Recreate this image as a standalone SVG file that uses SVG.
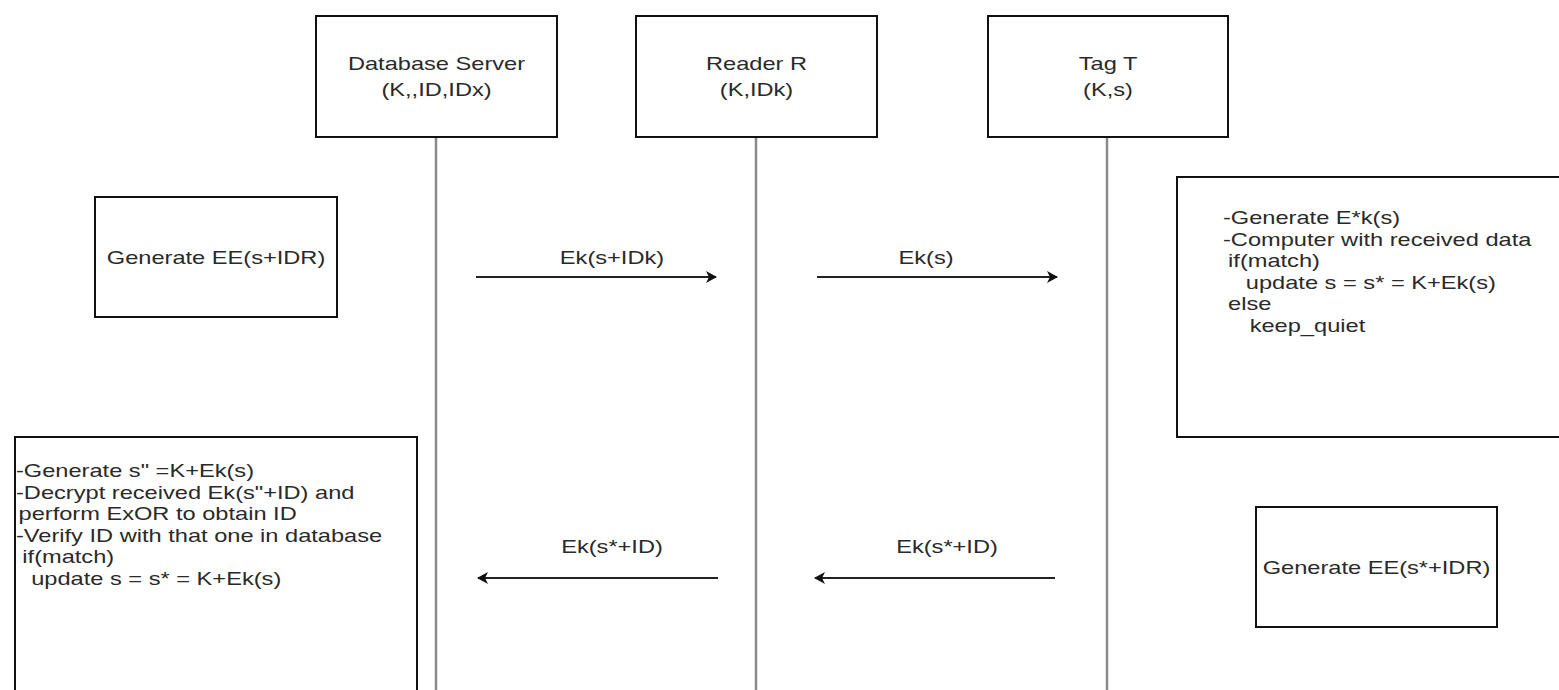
<svg xmlns="http://www.w3.org/2000/svg" width="1559" height="690" viewBox="0 0 1559 690">
  <style>
    .box { fill: #ffffff; stroke: #111111; stroke-width: 2; }
    .life { stroke: #8a8a8a; stroke-width: 2.5; fill: none; }
    .msg { stroke: #222222; stroke-width: 2; fill: none; }
    text { font-family: "Liberation Sans", Arial, sans-serif; font-size: 18.6px; fill: #2a2a2a; }
    .c { text-anchor: middle; }
  </style>
  <defs>
    <marker id="head" markerWidth="12" markerHeight="12" refX="10" refY="6" orient="auto" markerUnits="userSpaceOnUse">
      <path d="M0,0 L11,6 L0,12 L3,6 Z" fill="#111111"/>
    </marker>
  </defs>
  <rect width="1559" height="690" fill="#ffffff"/>

  <!-- lifelines -->
  <g id="lifelines">
    <line class="life" x1="436" y1="137" x2="436" y2="690"/>
    <line class="life" x1="756" y1="137" x2="756" y2="690"/>
    <line class="life" x1="1107" y1="137" x2="1107" y2="690"/>
  </g>

  <!-- participants -->
  <g id="database-server">
    <rect class="box" x="316" y="16" width="241" height="121"/>
    <text class="c" transform="translate(436.5,70) scale(1.27,1)">Database Server</text>
    <text class="c" transform="translate(436.5,96) scale(1.27,1)">(K,,ID,IDx)</text>
  </g>
  <g id="reader">
    <rect class="box" x="636" y="16" width="241" height="121"/>
    <text class="c" transform="translate(756.5,70) scale(1.27,1)">Reader R</text>
    <text class="c" transform="translate(756.5,96) scale(1.27,1)">(K,IDk)</text>
  </g>
  <g id="tag">
    <rect class="box" x="988" y="16" width="240" height="121"/>
    <text class="c" transform="translate(1108,70) scale(1.27,1)">Tag T</text>
    <text class="c" transform="translate(1108,96) scale(1.27,1)">(K,s)</text>
  </g>

  <!-- process notes -->
  <g id="server-generate">
    <rect class="box" x="95" y="197" width="242" height="120"/>
    <text class="c" transform="translate(216,264) scale(1.27,1)">Generate EE(s+IDR)</text>
  </g>
  <g id="tag-check">
    <rect class="box" x="1177" y="177" width="400" height="260"/>
    <g transform="translate(1223,0) scale(1.27,1)">
      <text x="0" y="224">-Generate E*k(s)</text>
      <text x="0" y="245.6">-Computer with received data</text>
      <text x="4" y="267.2">if(match)</text>
      <text x="18" y="288.8">update s = s* = K+Ek(s)</text>
      <text x="4" y="310.4">else</text>
      <text x="21" y="332">keep_quiet</text>
    </g>
  </g>
  <g id="tag-generate">
    <rect class="box" x="1256" y="507" width="241" height="120"/>
    <text class="c" transform="translate(1376.5,574) scale(1.27,1)">Generate EE(s*+IDR)</text>
  </g>
  <g id="server-verify">
    <rect class="box" x="15" y="437" width="402" height="280"/>
    <g transform="translate(16,0) scale(1.27,1)">
      <text x="0" y="477">-Generate s" =K+Ek(s)</text>
      <text x="0" y="498.6">-Decrypt received Ek(s"+ID) and</text>
      <text x="2" y="520.2">perform ExOR to obtain ID</text>
      <text x="0" y="541.8">-Verify ID with that one in database</text>
      <text x="5" y="563.4">if(match)</text>
      <text x="12" y="585">update s = s* = K+Ek(s)</text>
    </g>
  </g>

  <!-- messages -->
  <g id="connectors">
    <line class="msg" x1="476" y1="277" x2="716" y2="277" marker-end="url(#head)"/>
    <text class="c" transform="translate(612,264) scale(1.27,1)">Ek(s+IDk)</text>
    <line class="msg" x1="817" y1="277" x2="1057" y2="277" marker-end="url(#head)"/>
    <text class="c" transform="translate(926,264) scale(1.27,1)">Ek(s)</text>
    <line class="msg" x1="718" y1="578" x2="478" y2="578" marker-end="url(#head)"/>
    <text class="c" transform="translate(612,553) scale(1.27,1)">Ek(s*+ID)</text>
    <line class="msg" x1="1055" y1="578" x2="815" y2="578" marker-end="url(#head)"/>
    <text class="c" transform="translate(947,553) scale(1.27,1)">Ek(s*+ID)</text>
  </g>
</svg>
